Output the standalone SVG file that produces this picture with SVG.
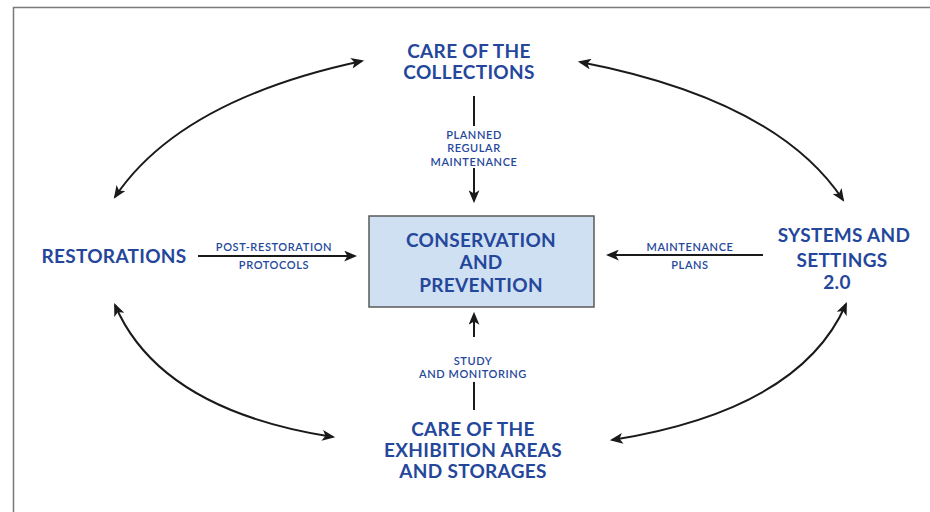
<svg xmlns="http://www.w3.org/2000/svg" width="930" height="512" viewBox="0 0 930 512">
  <style>
    .title { font-family: Lato, "Liberation Sans", sans-serif; font-weight: 700; font-size: 19px; fill: #24479b; text-anchor: middle; letter-spacing: 0.3px; }
    .label { font-family: Lato, "Liberation Sans", sans-serif; font-weight: 600; font-size: 11px; fill: #24479b; text-anchor: middle; letter-spacing: 0.6px; }
    .link { fill: none; stroke: #1a1a1a; stroke-width: 2; }
    .frame { fill: none; stroke: #7a7a7a; stroke-width: 1.5; }
  </style>
  <defs>
    <marker id="head" viewBox="0 0 12 10" refX="10" refY="5" markerWidth="6.5" markerHeight="5.5" orient="auto-start-reverse" markerUnits="strokeWidth">
      <path d="M0,0 L12,5 L0,10 L3,5 z" fill="#1a1a1a"/>
    </marker>
  </defs>

  <rect width="930" height="512" fill="#ffffff"/>
  <path class="frame" d="M930,7.5 H13.5 V512"/>

  <g id="connectors">
    <!-- cycle between the four outer topics -->
    <path class="link" d="M115,197 Q180,100 362,61" marker-start="url(#head)" marker-end="url(#head)"/>
    <path class="link" d="M580,62 Q777,100 843,200" marker-start="url(#head)" marker-end="url(#head)"/>
    <path class="link" d="M115,305 Q160,410 333,437" marker-start="url(#head)" marker-end="url(#head)"/>
    <path class="link" d="M612,440 Q800,410 846,304" marker-start="url(#head)" marker-end="url(#head)"/>

    <!-- flows into the central box -->
    <line class="link" x1="474" y1="96" x2="474" y2="126"/>
    <line class="link" x1="474" y1="168" x2="474" y2="201" marker-end="url(#head)"/>
    <line class="link" x1="198" y1="256" x2="355" y2="256" marker-end="url(#head)"/>
    <line class="link" x1="763" y1="255" x2="608" y2="255" marker-end="url(#head)"/>
    <line class="link" x1="474" y1="410" x2="474" y2="382"/>
    <line class="link" x1="474" y1="337" x2="474" y2="314" marker-end="url(#head)"/>

    <text class="label" x="474" y="138.5">PLANNED</text>
    <text class="label" x="474" y="152">REGULAR</text>
    <text class="label" x="474" y="165.5">MAINTENANCE</text>
    <text class="label" x="274" y="251">POST-RESTORATION</text>
    <text class="label" x="274" y="269">PROTOCOLS</text>
    <text class="label" x="690" y="251">MAINTENANCE</text>
    <text class="label" x="690" y="269">PLANS</text>
    <text class="label" x="473" y="364.5">STUDY</text>
    <text class="label" x="473" y="378">AND MONITORING</text>
  </g>

  <g id="conservation">
    <rect x="369" y="216" width="225" height="91" fill="#cfe0f3" stroke="#5a5a5a" stroke-width="1.5"/>
    <text class="title" x="481" y="247">CONSERVATION</text>
    <text class="title" x="481" y="269">AND</text>
    <text class="title" x="481" y="292">PREVENTION</text>
  </g>

  <g id="collections">
    <text class="title" x="469" y="57.5">CARE OF THE</text>
    <text class="title" x="469" y="78.5">COLLECTIONS</text>
  </g>

  <g id="restorations">
    <text class="title" x="114" y="263">RESTORATIONS</text>
  </g>

  <g id="systems">
    <text class="title" x="844" y="242">SYSTEMS AND</text>
    <text class="title" x="842" y="267">SETTINGS</text>
    <text class="title" x="837" y="289">2.0</text>
  </g>

  <g id="exhibition">
    <text class="title" x="473" y="436">CARE OF THE</text>
    <text class="title" x="473" y="457">EXHIBITION AREAS</text>
    <text class="title" x="473" y="478">AND STORAGES</text>
  </g>
</svg>
